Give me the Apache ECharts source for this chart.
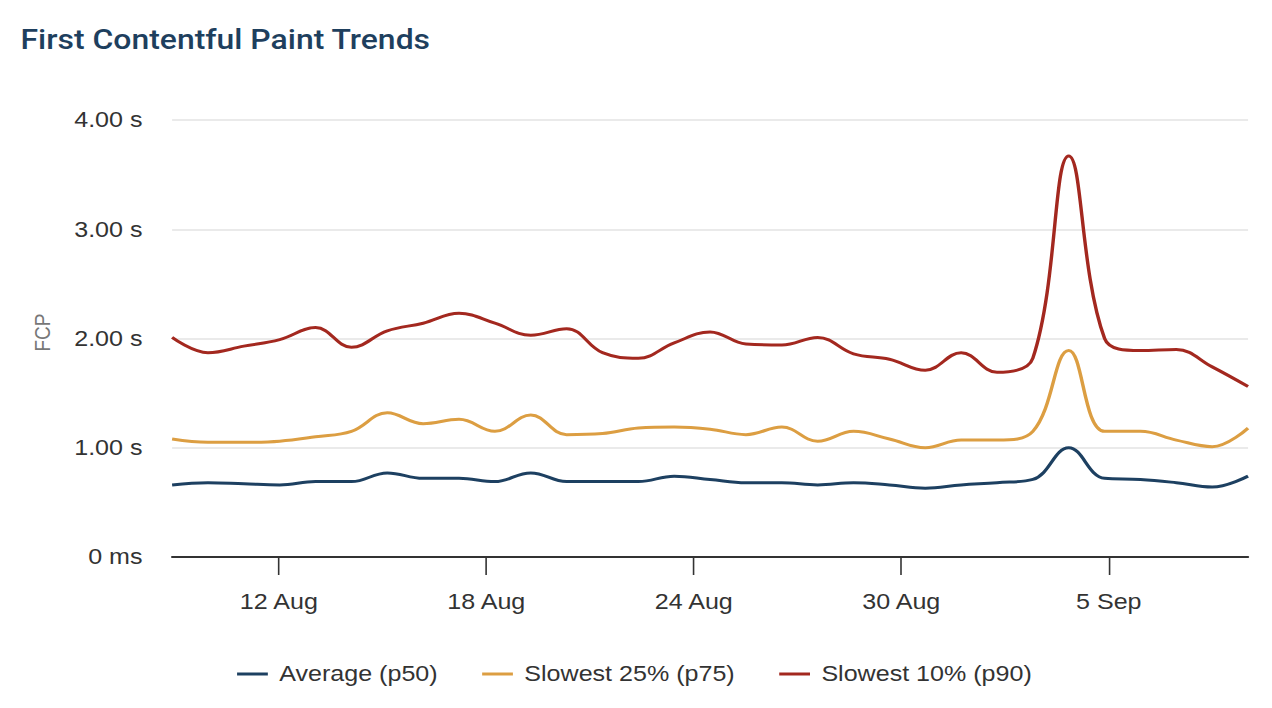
<!DOCTYPE html>
<html>
<head>
<meta charset="utf-8">
<script src="https://cdn.jsdelivr.net/npm/echarts@6/dist/echarts.min.js"></script>
<style>
  html, body { margin: 0; padding: 0; background: #fff; overflow: hidden; }
  /* the reference is drawn on a narrower canvas and widened to 1272px */
  #chart { width: 1116px; height: 708px; transform: scaleX(1.13978); transform-origin: 0 0; }
</style>
</head>
<body>
<div id="chart"></div>
<script>
// 31 evenly spaced buckets (approx. dates)
const buckets = ['8 Aug','9 Aug','10 Aug','12 Aug','13 Aug','14 Aug','15 Aug','16 Aug','17 Aug','18 Aug',
  '19 Aug','20 Aug','21 Aug','22 Aug','23 Aug','24 Aug','25 Aug','26 Aug','27 Aug','28 Aug',
  '29 Aug','30 Aug','31 Aug','1 Sep','2 Sep','3 Sep','4 Sep','5 Sep','6 Sep','7 Sep','8 Sep'];

// values in seconds
const p50 = [0.66,0.68,0.67,0.66,0.69,0.69,0.77,0.72,0.72,0.69,
  0.77,0.69,0.69,0.69,0.74,0.71,0.68,0.68,0.66,0.68,
  0.66,0.63,0.66,0.68,0.71,1.00,0.72,0.71,0.68,0.64,0.74];
const p75 = [1.08,1.05,1.05,1.06,1.10,1.15,1.32,1.22,1.26,1.15,
  1.30,1.12,1.13,1.18,1.19,1.17,1.12,1.19,1.06,1.15,
  1.08,1.00,1.07,1.07,1.15,1.89,1.15,1.15,1.07,1.01,1.18];
const p90 = [2.01,1.87,1.93,1.99,2.10,1.92,2.07,2.14,2.23,2.14,
  2.03,2.09,1.87,1.82,1.96,2.06,1.95,1.94,2.01,1.86,
  1.81,1.71,1.87,1.69,1.82,3.67,2.00,1.89,1.90,1.74,1.56];

const seriesNames = ['Average (p50)', 'Slowest 25% (p75)', 'Slowest 10% (p90)'];

// visible time axis in "day of August" units
const dayRange = [8.915, 40.028];
const tickDays = [12, 18, 24, 30, 36];
const tickLabels = ['12 Aug', '18 Aug', '24 Aug', '30 Aug', '5 Sep'];

const yTicks = [0, 1, 2, 3, 4];
const yTickLabels = ['0 ms', '1.00 s', '2.00 s', '3.00 s', '4.00 s'];

const colors = ['#1d4061', '#dc9e42', '#a3281f'];
const FONT = '"Liberation Sans", Arial, Helvetica, sans-serif';

const chart = echarts.init(document.getElementById('chart'), null, { renderer: 'svg', width: 1116, height: 708 });
chart.setOption({
  animation: false,
  color: colors,
  title: {
    text: 'First Contentful Paint Trends',
    left: 13,
    top: 20,
    textStyle: { fontFamily: 'Roboto', fontWeight: 500, fontSize: 28, color: '#1e3f5e' }
  },
  grid: { left: 151, right: 21, top: 120, bottom: 151 },
  legend: {
    data: seriesNames,
    left: 203,
    top: 658,
    icon: 'rect',
    itemWidth: 27,
    itemHeight: 3,
    itemGap: 39,
    textStyle: { fontFamily: FONT, fontSize: 22, color: '#333', padding: [0, 0, 0, 5] }
  },
  xAxis: [
    { type: 'category', data: buckets, boundaryGap: false, show: false },
    {
      type: 'value', min: dayRange[0], max: dayRange[1], position: 'bottom',
      axisLine: { show: true, onZero: false, lineStyle: { color: '#333', width: 2 } },
      axisTick: { show: true, length: 18, customValues: tickDays, lineStyle: { color: '#333', width: 1.4 } },
      axisLabel: {
        customValues: tickDays, margin: 34, fontFamily: FONT, fontSize: 22, color: '#333',
        formatter: v => tickLabels[tickDays.indexOf(Math.round(v))]
      },
      splitLine: { show: false }
    }
  ],
  yAxis: {
    type: 'value', min: 0, max: 4, interval: 1,
    name: 'FCP', nameLocation: 'middle', nameGap: 104,
    nameTextStyle: { fontFamily: FONT, fontSize: 19, color: '#777', padding: [0, 0, 0, 12] },
    axisLine: { show: false },
    axisTick: { show: false },
    axisLabel: {
      margin: 26, fontFamily: FONT, fontSize: 22, color: '#333', padding: [6, 0, 0, 0],
      formatter: v => yTickLabels[yTicks.indexOf(v)]
    },
    splitLine: { lineStyle: { color: '#e3e3e3', width: 1.5 } }
  },
  series: [p50, p75, p90].map((d, i) => ({
    name: seriesNames[i],
    type: 'line',
    xAxisIndex: 0,
    data: d,
    smooth: 0.4,
    showSymbol: false,
    lineStyle: { width: 3, color: colors[i] },
    itemStyle: { color: colors[i] },
    z: 3 + i
  }))
});
</script>
</body>
</html>
